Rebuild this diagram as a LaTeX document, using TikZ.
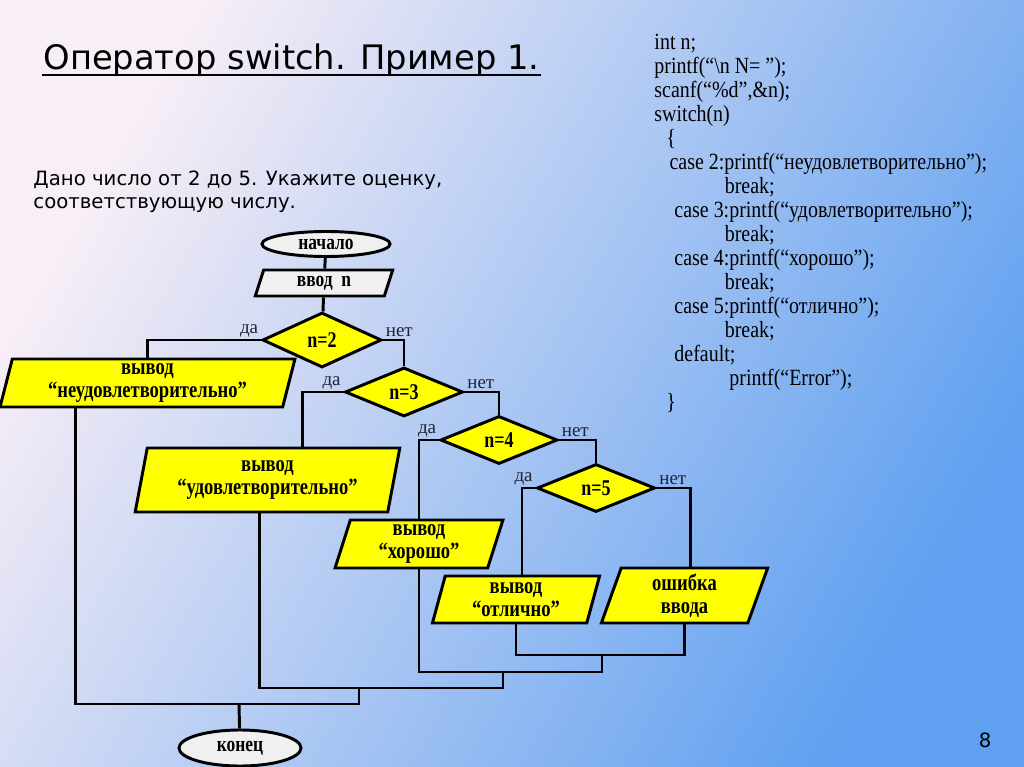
\documentclass[tikz,border=0pt]{standalone}
\usepackage{fontspec}
\setmainfont{Liberation Serif}
\newfontfamily\sansfont{DejaVu Sans}
\newfontfamily\boxfont[FakeStretch=0.8]{Liberation Serif}
\newfontfamily\codefont[FakeStretch=0.86]{Liberation Serif}
\usepackage{tikz}
\usetikzlibrary{shapes.geometric,calc,positioning}

\definecolor{bgtop}{RGB}{248,238,246}
\definecolor{bgmid}{RGB}{168,210,246}
\definecolor{bgbot}{RGB}{95,160,240}
\definecolor{boxyellow}{RGB}{255,255,0}
\definecolor{boxgray}{RGB}{240,240,240}
\definecolor{labelgray}{RGB}{35,35,50}

\begin{document}
\begin{tikzpicture}[x=0.025cm, y=-0.025cm, line width=2.1pt,
    terminal/.style={draw, ellipse, fill=boxgray, inner sep=0pt, font=\boxfont\bfseries\fontsize{15.5}{16}\selectfont},
    inout/.style={draw, trapezium, trapezium left angle=77, trapezium right angle=103, trapezium stretches=true, fill=boxyellow, inner sep=0pt, align=center, font=\boxfont\bfseries\fontsize{16.5}{16.5}\selectfont},
    decision/.style={draw, diamond, fill=boxyellow, inner sep=0pt, font=\boxfont\bfseries\fontsize{16}{16}\selectfont},
    yesno/.style={inner sep=1pt, text=labelgray, font=\fontsize{13.5}{13.5}\selectfont}]
    % Background
    \useasboundingbox (0,0) rectangle (1024,767);
    \shade[top color=bgtop, middle color=bgmid, bottom color=bgbot, shading angle=60] (0,0) rectangle (1024,767);

    % Texts
    \node[anchor=base west, inner sep=0pt, font=\sansfont\fontsize{24}{24}\selectfont] (title) at (42,70) {Оператор switch. Пример 1.};
    \draw[line width=1.4pt] ($(title.base west)+(0,5)$) -- ($(title.base east)+(0,5)$);
    \node[anchor=north west, inner sep=0pt, align=left, font=\sansfont\fontsize{14}{16.4}\selectfont] (task) at (32,169) {Дано число от 2 до 5. Укажите оценку,\\соответствующую числу.};
    \node[anchor=north west, inner sep=0pt, align=left, font=\codefont\fontsize{16.5}{17.07}\selectfont] (code) at (653,33) {int n;\\
        printf(“\textbackslash n N= ”);\\
        scanf(“\%d”,\&n);\\
        switch(n)\\
        \hspace*{8.5pt}\{\\
        \hspace*{10.7pt}case 2:printf(“неудовлетворительно”);\\
        \hspace*{50pt}break;\\
        \hspace*{14.2pt}case 3:printf(“удовлетворительно”);\\
        \hspace*{50pt}break;\\
        \hspace*{14.2pt}case 4:printf(“хорошо”);\\
        \hspace*{50pt}break;\\
        \hspace*{14.2pt}case 5:printf(“отлично”);\\
        \hspace*{50pt}break;\\
        \hspace*{14.2pt}default;\\
        \hspace*{53.3pt}printf(“Error”);\\
        \hspace*{8.5pt}\}};
    \node[font=\sansfont\fontsize{14}{14}\selectfont] (pagenum) at (985,740) {8};

    % Blocks
    \node[terminal, minimum width=3.2cm, minimum height=0.625cm] (start) at (326,244) {начало};
    \node[inout, fill=boxgray, trapezium left angle=75, trapezium right angle=105, minimum width=3.45cm, minimum height=0.65cm, font=\boxfont\bfseries\fontsize{15.5}{16}\selectfont] (inp) at (324,283) {ввод~~n};
    \node[decision, minimum width=2.975cm, minimum height=1.375cm] (d2) at (322,340) {n=2};
    \node[inout, minimum width=7.375cm, minimum height=1.2cm] (out2) at (147.5,383) {вывод\\“неудовлетворительно”};
    \node[decision, minimum width=2.95cm, minimum height=1.225cm] (d3) at (404,392) {n=3};
    \node[inout, minimum width=6.625cm, minimum height=1.6cm] (out3) at (267.5,480) {вывод\\“удовлетворительно”};
    \node[decision, minimum width=2.925cm, minimum height=1.2cm] (d4) at (499,440) {n=4};
    \node[inout, minimum width=4.2cm, minimum height=1.2cm] (out4) at (419,544) {вывод\\“хорошо”};
    \node[decision, minimum width=2.95cm, minimum height=1.2cm] (d5) at (596,488) {n=5};
    \node[inout, minimum width=4.2cm, minimum height=1.175cm] (out5) at (516,599.5) {вывод\\“отлично”};
    \node[inout, minimum width=4.175cm, minimum height=1.375cm] (err) at (684.5,595.5) {ошибка\\ввода};
    \node[terminal, minimum width=3.05cm, minimum height=0.9cm] (stop) at (240,748) {конец};

    % Labels
    \node[yesno, anchor=south east] (yes2) at (d2.west) {да};
    \node[yesno, anchor=south west] (no2) at (d2.east) {нет};
    \node[yesno, anchor=south east] (yes3) at (d3.west) {да};
    \node[yesno, anchor=south west] (no3) at (d3.east) {нет};
    \node[yesno, anchor=south east] (yes4) at (d4.west) {да};
    \node[yesno, anchor=south west] (no4) at (d4.east) {нет};
    \node[yesno, anchor=south east] (yes5) at (d5.west) {да};
    \node[yesno, anchor=south west] (no5) at (d5.east) {нет};

    % Junctions
    \coordinate (j5) at (602,655);
    \coordinate (j4) at (503,672);
    \coordinate (j3) at (359,688);
    \coordinate (j2) at (239,704);

    % Connections
    \draw (start) -- (inp);
    \draw (inp) -- (d2);
    \draw (d2.west) -| (out2.north);
    \draw (d2.east) -| (d3.north);
    \draw (d3.west) -| ($(out3.north)+(35,0)$);
    \draw (d3.east) -| (d4.north);
    \draw (d4.west) -| (out4.north);
    \draw (d4.east) -| (d5.north);
    \draw (d5.west) -| ($(out5.north)+(6,0)$);
    \draw (d5.east) -| ($(err.north)+(6,0)$);
    \draw (out5.south) |- (j5) -| (err.south);
    \draw (out4.south) |- (j4) -| (j5);
    \draw ($(out3.south)+(-8,0)$) |- (j3) -| (j4);
    \draw ($(out2.south)+(-72,0)$) |- (j2) -| (j3);
    \draw (j2) -- (stop);
\end{tikzpicture}
\end{document}
